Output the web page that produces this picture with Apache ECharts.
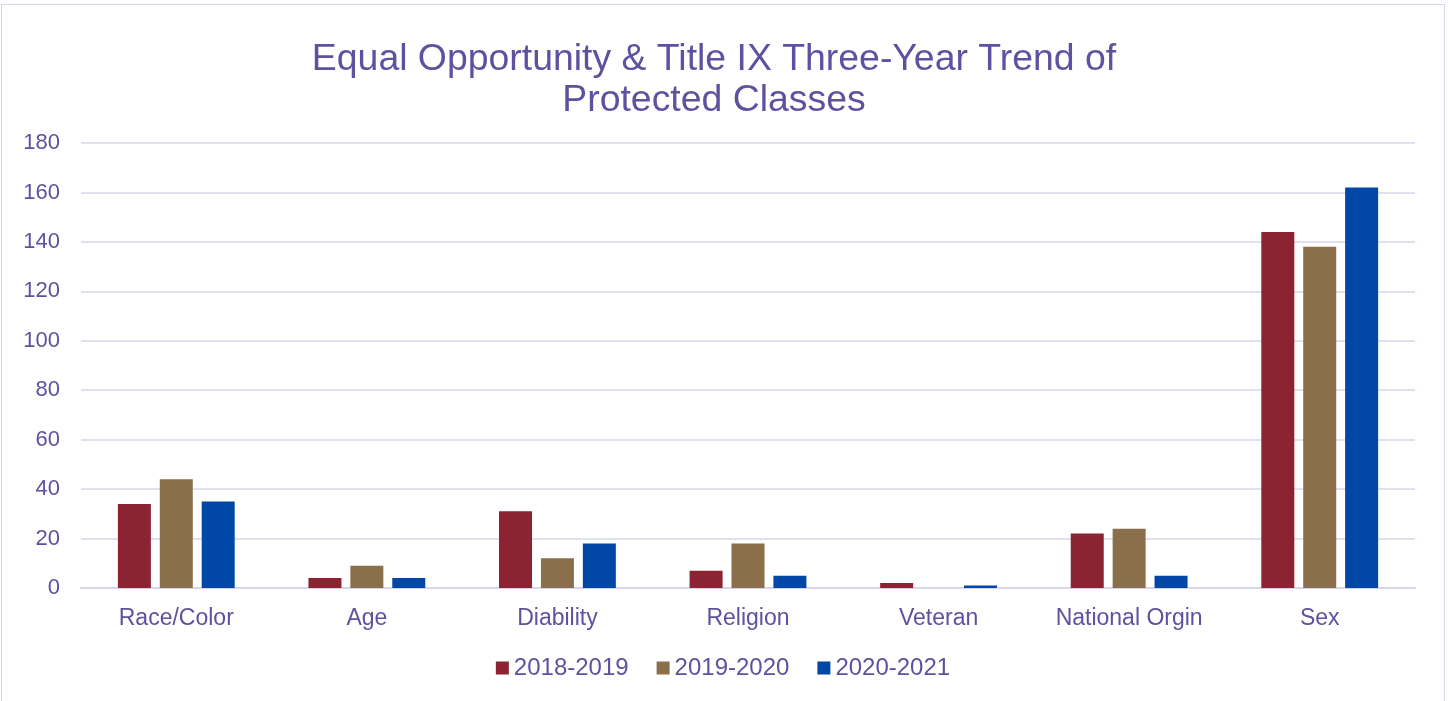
<!DOCTYPE html>
<html>
<head>
<meta charset="utf-8">
<script src="https://cdn.jsdelivr.net/npm/echarts@6/dist/echarts.min.js"></script>
<style>
  html, body { margin: 0; padding: 0; background: #fff; }
  #chart { position: absolute; left: 1px; top: 4px; width: 1444px; height: 700px;
           border: 1px solid #d9d5ea; border-bottom: none; box-sizing: border-box; }
</style>
</head>
<body>
<div id="chart"></div>
<script>
var categories = ['Race/Color', 'Age', 'Diability', 'Religion', 'Veteran', 'National Orgin', 'Sex'];
var seriesNames = ['2018-2019', '2019-2020', '2020-2021'];
var values1819 = [34, 4, 31, 7, 2, 22, 144];
var values1920 = [44, 9, 12, 18, 0, 24, 138];
var values2021 = [35, 4, 18, 5, 1, 5, 162];
var colors = ['#8b2332', '#8b6f4a', '#0047a8'];

var textColor = '#5e52a0';
var myChart = echarts.init(document.getElementById('chart'));

var option = {
	color: colors,
	textStyle: { fontFamily: 'Liberation Sans, Arial, sans-serif' },
	title: {
		text: 'Equal Opportunity & Title IX Three-Year Trend of\nProtected Classes',
		left: 707,
		top: 29,
		textAlign: 'center',
		textStyle: { color: textColor, fontSize: 37.4, fontWeight: 'normal', lineHeight: 41 }
	},
	legend: {
		data: seriesNames,
		bottom: 19,
		itemWidth: 13,
		itemHeight: 13,
		itemGap: 28,
		icon: 'rect',
		textStyle: { color: textColor, fontSize: 24 }
	},
	grid: { left: 79, right: 29, top: 138, bottom: 116, containLabel: false },
	xAxis: {
		type: 'category',
		data: categories,
		axisTick: { show: false },
		axisLine: { lineStyle: { color: '#d9d5ea', width: 2 } },
		axisLabel: { color: textColor, fontSize: 23, margin: 19, interval: 0 }
	},
	yAxis: {
		type: 'value',
		min: 0,
		max: 180,
		interval: 20,
		axisLine: { show: false },
		axisTick: { show: false },
		axisLabel: { color: textColor, fontSize: 22, margin: 21 },
		splitLine: { lineStyle: { color: '#d9d5ea', width: 1.5 } }
	},
	series: [
		{ name: seriesNames[0], type: 'bar', data: values1819, barWidth: 33, barGap: '27%' },
		{ name: seriesNames[1], type: 'bar', data: values1920, barWidth: 33, barGap: '27%' },
		{ name: seriesNames[2], type: 'bar', data: values2021, barWidth: 33, barGap: '27%' }
	]
};

myChart.setOption(option);
</script>
</body>
</html>
